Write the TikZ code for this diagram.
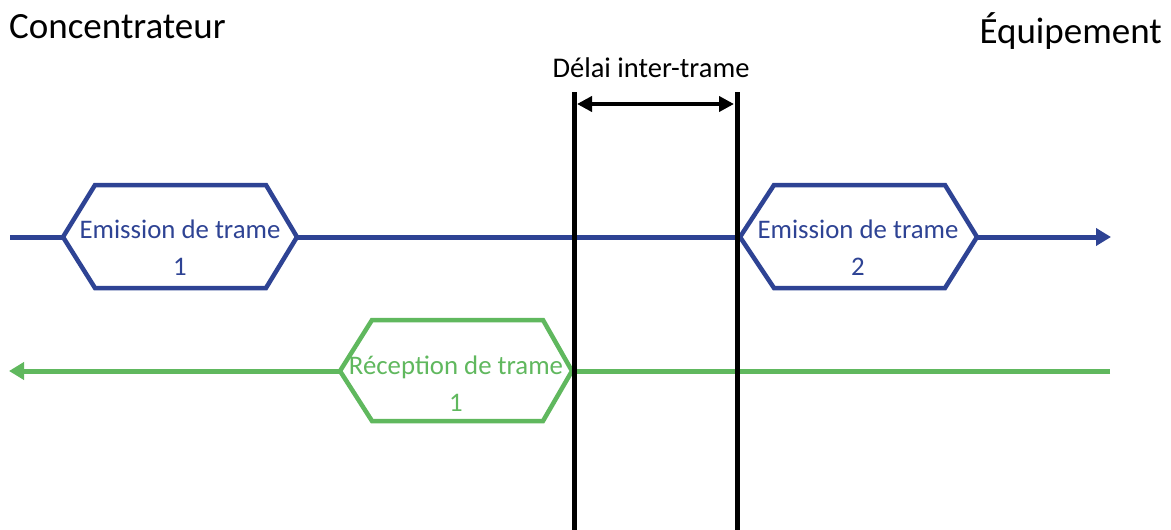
\documentclass[tikz,border=0pt]{standalone}
\usepackage{fontspec}
\setmainfont{Carlito}
\usetikzlibrary{arrows.meta}
\definecolor{tblue}{RGB}{46,67,148}
\definecolor{tgreen}{RGB}{96,184,94}
\tikzset{
  hexa/.style={line width=4.5pt, line join=miter, fill=white},
  flow/.style={line width=5pt},
  sep/.style={line width=5pt, black},
  lbl/.style={align=center, inner sep=0pt, font=\fontsize{26.8}{37}\selectfont},
  title/.style={inner sep=0pt, font=\fontsize{37}{44}\selectfont},
}
\begin{document}
\begin{tikzpicture}[x=1pt,y=-1pt]
\useasboundingbox (0,0) rectangle (1171,530);
% titles
\node[title, anchor=west] (conc) at (9,27) {Concentrateur};
\node[title, anchor=east] (equip) at (1162,31) {Équipement};
\node[inner sep=0pt, font=\fontsize{28.5}{34}\selectfont] (delai) at (651,68) {Délai inter-trame};
% coordinates
\coordinate (bstart) at (10,237);
\coordinate (bend) at (1111,237);
\coordinate (gstart) at (1110,371);
\coordinate (gend) at (9,371);
\coordinate (h1l) at (63,237);
\coordinate (h1r) at (297,237);
\coordinate (h2l) at (740,237);
\coordinate (h2r) at (977,237);
\coordinate (h3l) at (340,371);
\coordinate (h3r) at (572,371);
% blue flow
\draw[flow, draw=tblue] (bstart) -- (h1l);
\draw[flow, draw=tblue] (h1r) -- (h2l);
\draw[flow, draw=tblue, fill=tblue, -{Triangle[length=15pt,width=17pt]}] (h2r) -- (bend);
% green flow
\draw[flow, draw=tgreen] (gstart) -- (h3r);
\draw[flow, draw=tgreen, fill=tgreen, -{Triangle[length=15pt,width=17pt]}] (h3l) -- (gend);
% hexagons
\draw[hexa, draw=tblue] (h1l) -- (95,185) -- (266,185) -- (h1r) -- (266,288) -- (95,288) -- cycle;
\node[lbl, text=tblue] (e1) at (180,248) {Emission de trame\\1};
\draw[hexa, draw=tblue] (h2l) -- (774,185) -- (945,185) -- (h2r) -- (945,288) -- (774,288) -- cycle;
\node[lbl, text=tblue] (e2) at (858,248) {Emission de trame\\2};
\draw[hexa, draw=tgreen] (h3l) -- (372,320) -- (543,320) -- (h3r) -- (543,421) -- (372,421) -- cycle;
\node[lbl, text=tgreen] (r1) at (456,384) {Réception de trame\\1};
% separators
\coordinate (s1t) at (574,92);
\coordinate (s1b) at (574,530);
\coordinate (s2t) at (737,92);
\coordinate (s2b) at (737,530);
\draw[sep] (s1t) -- (s1b);
\draw[sep] (s2t) -- (s2b);
\coordinate (a1) at (577,104);
\coordinate (a2) at (734,104);
\draw[line width=4pt, {Triangle[length=15pt,width=15pt]}-{Triangle[length=15pt,width=15pt]}] (a1) -- (a2);
\end{tikzpicture}
\end{document}
